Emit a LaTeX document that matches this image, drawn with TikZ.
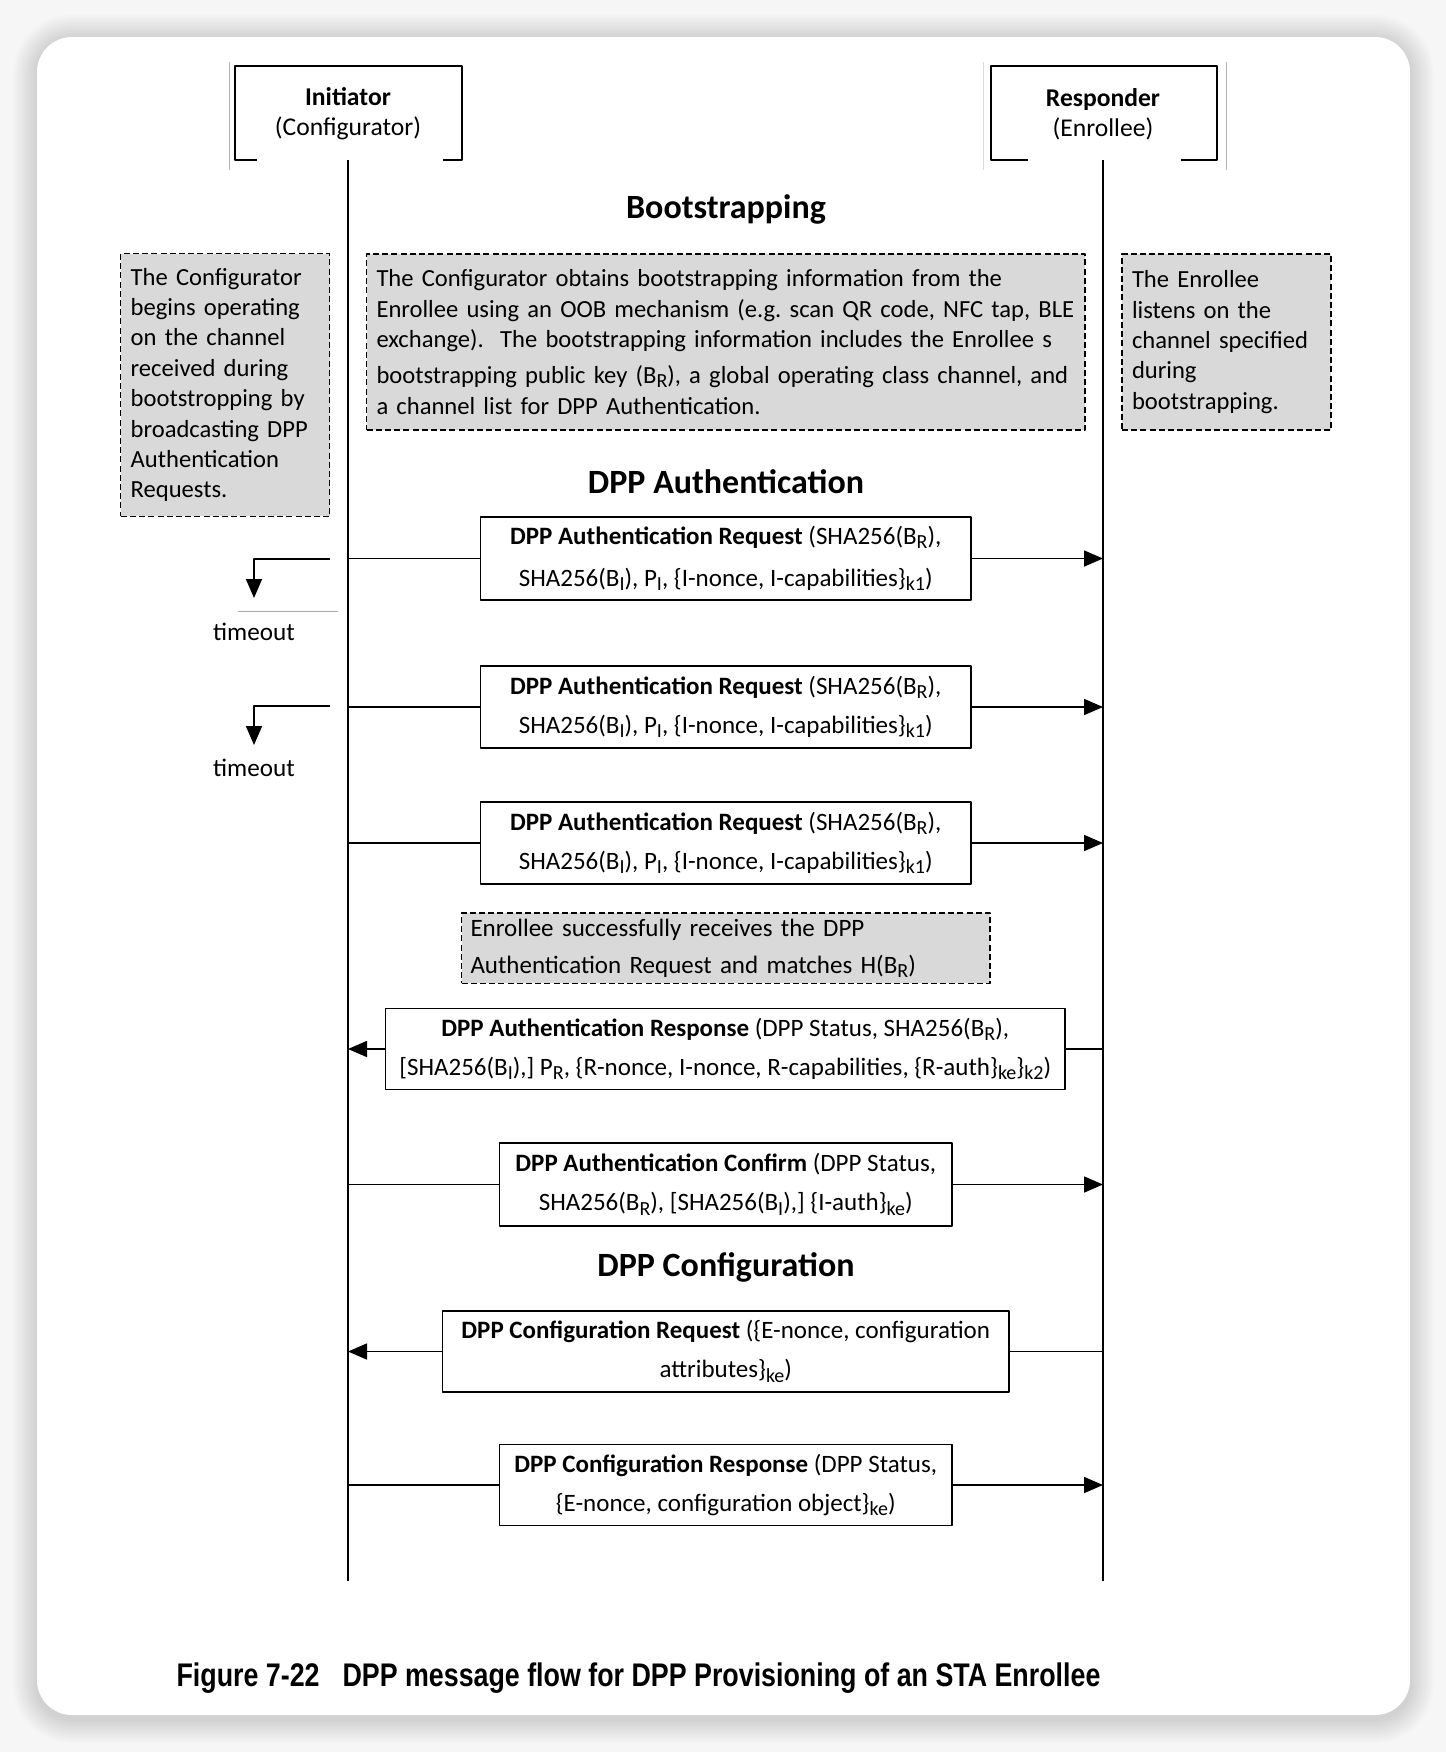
\documentclass[tikz,border=0pt]{standalone}
\usepackage{fontspec}
\setmainfont{Carlito}
\newfontfamily\capfont[FakeStretch=0.82]{Liberation Sans}
\usetikzlibrary{arrows.meta}
\frenchspacing
\definecolor{notegray}{HTML}{D9D9D9}
\definecolor{bggray}{HTML}{F6F6F6}
\newcommand{\lo}[1]{\raisebox{-0.35ex}{\fontsize{10}{10}\selectfont #1}}
\tikzset{
  msg/.style={draw, line width=0.6pt, fill=white, align=center, inner sep=0pt, font=\fontsize{12.5}{19.5}\selectfont},
  note/.style={draw, line width=0.7pt, dash pattern=on 3pt off 1.6pt, fill=notegray, align=left, inner xsep=5pt, inner ysep=0pt, font=\fontsize{12.3}{15.2}\selectfont},
  phase/.style={font=\fontsize{17}{20}\selectfont\bfseries},
  actor/.style={align=center, font=\fontsize{12.8}{15}\selectfont},
  lifeline/.style={line width=1pt},
  flow/.style={line width=0.8pt},
}
\begin{document}
\begin{tikzpicture}[>={Triangle[length=9.5pt,width=8pt]}, x=0.5pt, y=-0.5pt, line join=round]
	\useasboundingbox (0,0) rectangle (1446,1752);
	% card with soft shadow
	\fill[bggray] (0,0) rectangle (1446,1752);
	\foreach \s in {1,...,12}
		\fill[black, opacity=0.01, rounded corners={(17.5+\s)*1pt}] (37-2*\s,39-2*\s) rectangle (1410+2*\s,1719+2*\s);
	\fill[white, rounded corners=17.5pt] (37,37) rectangle (1410,1715);
	
	% actors
	\draw[line width=0.6pt] (257,160) -- (235,160) -- (235,66) -- (462,66) -- (462,160) -- (443,160);
	\draw[line width=0.6pt] (1028,160) -- (991,160) -- (991,66) -- (1217,66) -- (1217,160) -- (1181,160);
	\draw[gray!60, line width=0.4pt] (229,62) -- (229,170);
	\draw[gray!30, line width=0.4pt] (983,62) -- (983,170);
	\draw[gray!60, line width=0.4pt] (1226,62) -- (1226,170);
	\node[actor] (I) at (348,114) {\textbf{Initiator}\\(Configurator)};
	\node[actor] (R) at (1103,114) {\textbf{Responder}\\(Enrollee)};
	
	\coordinate (Ia) at (348,160);
	\coordinate (Ib) at (348,1581);
	\coordinate (Ra) at (1103,160);
	\coordinate (Rb) at (1103,1581);
	\draw[lifeline] (Ia) -- (Ib);
	\draw[lifeline] (Ra) -- (Rb);
	
	% phases
	\node[phase] (boot) at (726,209) {Bootstrapping};
	\node[phase] (auth) at (726,482) {DPP Authentication};
	\node[phase] (cfg) at (726,1267) {DPP Configuration};
	
	% bootstrapping notes
	\node[note, minimum width=104.5pt, minimum height=131.3pt, text width=94.5pt] (nI) at (225.2,385)
		{The Configurator\\ begins operating\\ on the channel\\ received during\\ bootstropping by\\ broadcasting DPP\\ Authentication\\ Requests.};
	\node[note, minimum width=359.25pt, minimum height=88.15pt, text width=349.25pt] (nB) at (725.75,342)
		{The Configurator obtains bootstrapping information from the\\ Enrollee using an OOB mechanism (e.g. scan QR code, NFC tap, BLE\\ exchange).\ \ The bootstrapping information includes the Enrollee s\\[3pt] bootstrapping public key (B\lo{R}), a global operating class channel, and\\ a channel list for DPP Authentication.};
	\node[note, minimum width=104.5pt, minimum height=88.15pt, text width=94.5pt] (nR) at (1226.5,342)
		{The Enrollee\\ listens on the\\ channel specified\\ during\\ bootstrapping.};
	
	% authentication
	\node[msg, minimum width=245.25pt, minimum height=41.5pt, font=\fontsize{12.5}{21}\selectfont] (q1) at (725.75,558.5)
		{\textbf{DPP Authentication Request} (SHA256(B\lo{R}),\\ SHA256(B\lo{I}), P\lo{I}, \{I-nonce, I-capabilities\}\lo{k1})};
	\node[msg, minimum width=245.25pt, minimum height=41pt] (q2) at (725.75,707)
		{\textbf{DPP Authentication Request} (SHA256(B\lo{R}),\\ SHA256(B\lo{I}), P\lo{I}, \{I-nonce, I-capabilities\}\lo{k1})};
	\node[msg, minimum width=245.25pt, minimum height=41pt] (q3) at (725.75,843)
		{\textbf{DPP Authentication Request} (SHA256(B\lo{R}),\\ SHA256(B\lo{I}), P\lo{I}, \{I-nonce, I-capabilities\}\lo{k1})};
	\node[note, inner xsep=4.5pt, minimum width=264.25pt, minimum height=35.2pt, text width=255.25pt, font=\fontsize{12.5}{18.5}\selectfont] (nE) at (725.75,948)
		{Enrollee successfully receives the DPP\\ Authentication Request and matches H(B\lo{R})};
	\node[msg, minimum width=339.75pt, minimum height=40.75pt] (rsp) at (725.25,1049)
		{\textbf{DPP Authentication Response} (DPP Status, SHA256(B\lo{R}),\\ {[}SHA256(B\lo{I}),] P\lo{R}, \{R-nonce, I-nonce, R-capabilities, \{R-auth\}\lo{ke}\}\lo{k2})};
	\node[msg, minimum width=226.25pt, minimum height=41.5pt] (cnf) at (725.75,1184.5)
		{\textbf{DPP Authentication Confirm} (DPP Status,\\ SHA256(B\lo{R}), [SHA256(B\lo{I}),] \{I-auth\}\lo{ke})};
	
	% configuration
	\node[msg, minimum width=283.25pt, minimum height=40.5pt] (creq) at (725.75,1351.5)
		{\textbf{DPP Configuration Request} (\{E-nonce, configuration\\ attributes\}\lo{ke})};
	\node[msg, minimum width=226.25pt, minimum height=40.75pt] (cresp) at (725.75,1485)
		{\textbf{DPP Configuration Response} (DPP Status,\\ \{E-nonce, configuration object\}\lo{ke})};
	
	% arrows
	\foreach \m in {q1,q2,q3,cnf,cresp} {
		\draw[flow] (\m.west -| Ia) -- (\m.west);
		\draw[flow, ->] (\m.east) -- (\m.east -| Ra);
	}
	\foreach \m in {rsp,creq} {
		\draw[flow] (\m.east -| Ra) -- (\m.east);
		\draw[flow, ->] (\m.west) -- (\m.west -| Ia);
	}
	
	% timeouts
	\node[font=\fontsize{12.6}{14}\selectfont] (to1) at (254,632) {timeout};
	\node[font=\fontsize{12.6}{14}\selectfont] (to2) at (254,768) {timeout};
	\coordinate (t1) at (330,559);
	\coordinate (t1e) at (254,598);
	\coordinate (t2) at (330,706);
	\coordinate (t2e) at (254,745);
	\draw[flow, ->] (t1) -| (t1e);
	\draw[flow, ->] (t2) -| (t2e);
	\draw[gray!70, line width=0.4pt] (238,611) -- (338,611);
	
	\node[font=\capfont\fontsize{16.35}{19}\selectfont\bfseries] (cap) at (638.5,1678)
		{Figure 7-22\hspace{0.7em}DPP message flow for DPP Provisioning of an STA Enrollee};
\end{tikzpicture}
\end{document}
